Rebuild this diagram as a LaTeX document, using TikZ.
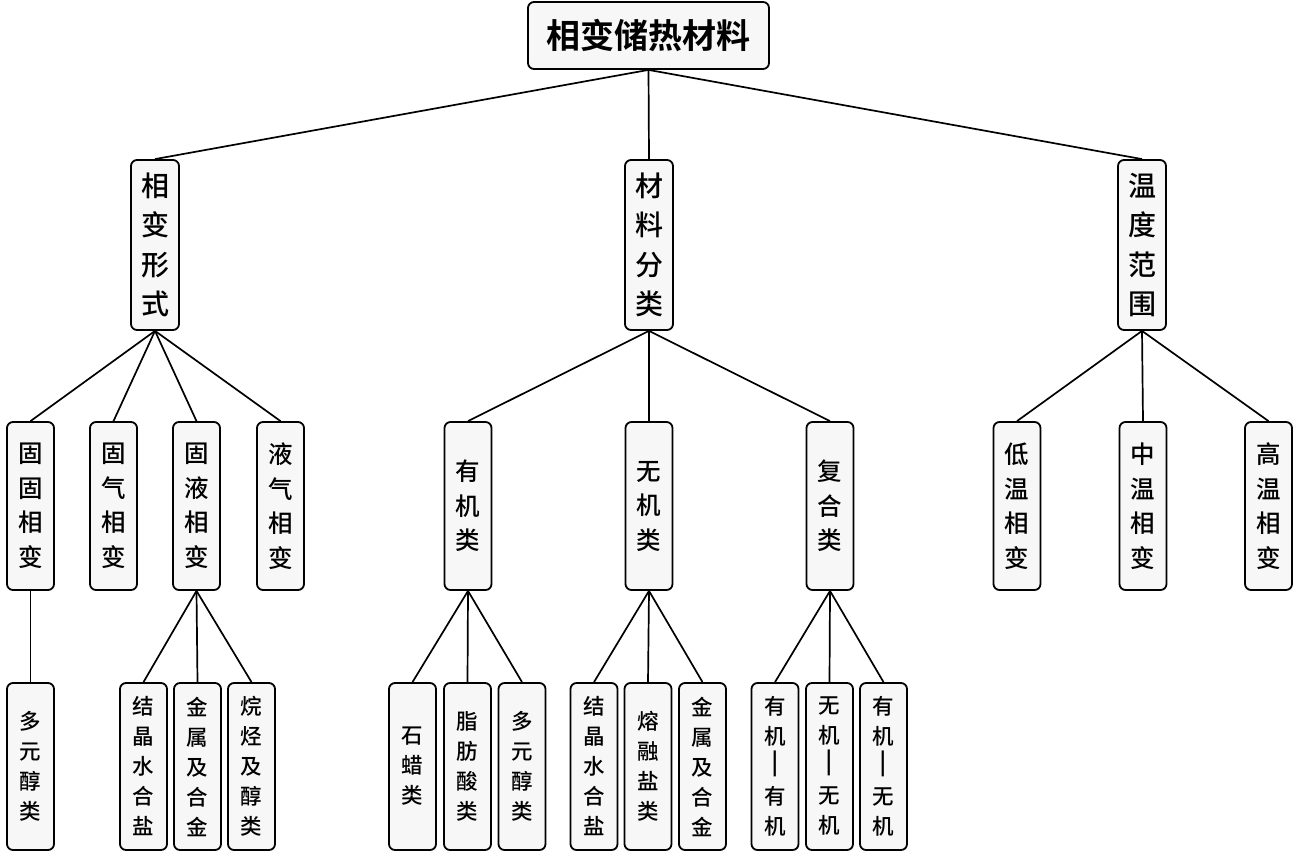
\documentclass[tikz,border=0pt]{standalone}
\usepackage{fontspec}
\usepackage{graphicx}
\setmainfont{Noto Sans CJK SC Medium}
\newfontfamily\cjkbold{Noto Sans CJK SC Bold}
\newcommand{\vdashbar}{\scalebox{1}[1.3]{丨}}
\definecolor{boxfill}{HTML}{F7F7F7}
\tikzset{
  base/.style={draw=black, line width=1.8pt, fill=boxfill, rounded corners=6pt,
    inner sep=0pt, align=center, text=black},
  rootbox/.style={base, minimum width=241pt, minimum height=67pt,
    font=\cjkbold\fontsize{34}{40}\selectfont},
  lvlone/.style={base, minimum width=48pt, minimum height=170pt,
    font=\fontsize{28}{39.5}\selectfont},
  lvltwo/.style={base, minimum width=47pt, minimum height=168pt,
    font=\fontsize{24.5}{34.5}\selectfont},
  lvlthree/.style={base, minimum width=47pt, minimum height=167pt,
    font=\fontsize{21.5}{30}\selectfont},
  conn/.style={draw=black, line width=1.7pt}
}
\begin{document}
\begin{tikzpicture}[x=1pt,y=-1pt]
\useasboundingbox (0,0) rectangle (1297,856);
% root
\node[rootbox] (root) at (648.5,35.5) {相变储热材料};
% level 1
\node[lvlone] (xbxs) at (155,245) {相\\变\\形\\式};
\node[lvlone] (clfl) at (649,245) {材\\料\\分\\类};
\node[lvlone] (wdfw) at (1142,245) {温\\度\\范\\围};
% level 2
\node[lvltwo] (ggxb) at (30.5,506) {固\\固\\相\\变};
\node[lvltwo] (gqxb) at (113.5,506) {固\\气\\相\\变};
\node[lvltwo] (gyxb) at (196.5,506) {固\\液\\相\\变};
\node[lvltwo] (yqxb) at (280.5,506) {液\\气\\相\\变};
\node[lvltwo] (yjl) at (468,506) {有\\机\\类};
\node[lvltwo] (wjl) at (649,506) {无\\机\\类};
\node[lvltwo] (fhl) at (830,506) {复\\合\\类};
\node[lvltwo] (dwxb) at (1017,506) {低\\温\\相\\变};
\node[lvltwo] (zwxb) at (1143,506) {中\\温\\相\\变};
\node[lvltwo] (gwxb) at (1268.5,506) {高\\温\\相\\变};
% level 3
\node[lvlthree] (dycla) at (30.5,766.5) {多\\元\\醇\\类};
\node[lvlthree] (jjsha) at (143.5,766.5) {结\\晶\\水\\合\\盐};
\node[lvlthree] (jshja) at (197.5,766.5) {金\\属\\及\\合\\金};
\node[lvlthree] (wtjc) at (251.5,766.5) {烷\\烃\\及\\醇\\类};
\node[lvlthree] (slx) at (412.5,766.5) {石\\蜡\\类};
\node[lvlthree] (zfsl) at (467.5,766.5) {脂\\肪\\酸\\类};
\node[lvlthree] (dyclb) at (522,766.5) {多\\元\\醇\\类};
\node[lvlthree] (jjshb) at (594,766.5) {结\\晶\\水\\合\\盐};
\node[lvlthree] (rrys) at (648,766.5) {熔\\融\\盐\\类};
\node[lvlthree] (jshjb) at (702.5,766.5) {金\\属\\及\\合\\金};
\node[lvlthree] (yjyj) at (775,766.5) {有\\机\\\vdashbar\\有\\机};
\node[lvlthree] (wjwj) at (829.5,766.5) {无\\机\\\vdashbar\\无\\机};
\node[lvlthree] (yjwj) at (883.5,766.5) {有\\机\\\vdashbar\\无\\机};
% connectors
\foreach \c in {xbxs,clfl,wdfw}{\draw[conn] (root.south) -- (\c.north);}
\foreach \c in {ggxb,gqxb,gyxb,yqxb}{\draw[conn] (xbxs.south) -- (\c.north);}
\foreach \c in {yjl,wjl,fhl}{\draw[conn] (clfl.south) -- (\c.north);}
\foreach \c in {dwxb,zwxb,gwxb}{\draw[conn] (wdfw.south) -- (\c.north);}
\draw[conn] (ggxb.south) -- (dycla.north);
\foreach \c in {jjsha,jshja,wtjc}{\draw[conn] (gyxb.south) -- (\c.north);}
\foreach \c in {slx,zfsl,dyclb}{\draw[conn] (yjl.south) -- (\c.north);}
\foreach \c in {jjshb,rrys,jshjb}{\draw[conn] (wjl.south) -- (\c.north);}
\foreach \c in {yjyj,wjwj,yjwj}{\draw[conn] (fhl.south) -- (\c.north);}
\end{tikzpicture}
\end{document}
